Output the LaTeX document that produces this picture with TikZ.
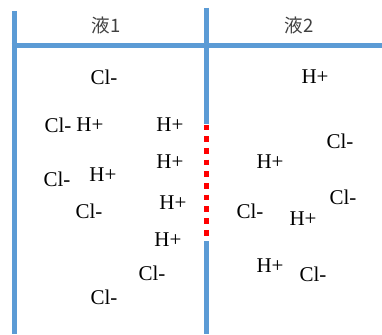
\documentclass[tikz,border=0pt]{standalone}
\usepackage{fontspec}
\setmainfont{Liberation Serif}
\newfontfamily\jpfont{Noto Sans CJK JP}
\usepackage{xcolor}
\definecolor{wallblue}{HTML}{5B9BD5}
\definecolor{labelgray}{HTML}{404040}

\begin{document}
\begin{tikzpicture}[
    x=1pt, y=-1pt,
    wall/.style={line width=5pt, wallblue},
    pore/.style={line width=5pt, red, dash pattern=on 5.7pt off 6pt},
    ion/.style={font=\fontsize{21}{24}\selectfont, inner sep=0pt},
    tank/.style={font=\jpfont\fontsize{18.5}{21}\selectfont, text=labelgray, inner sep=0pt}
]
    \useasboundingbox (0,0) rectangle (382,334);

    % walls of the vessel
    \draw[wall] (14,11) -- (14,334);
    \draw[wall] (11.5,45.5) -- (382,45.5);
    \draw[wall] (206.5,8) -- (206.5,124);
    \draw[wall] (206.5,241) -- (206.5,334);
    \draw[pore] (206.5,124.5) -- (206.5,237);

    % headings
    \node[tank] (liq1) at (106,25) {液1};
    \node[tank] (liq2) at (299,25) {液2};

    % left side
    \node[ion] (cl1) at (104,77) {Cl-};
    \node[ion] (cl2) at (58,125) {Cl-};
    \node[ion] (h1) at (90,125) {H+};
    \node[ion] (h2) at (170,125) {H+};
    \node[ion] (h3) at (170,162) {H+};
    \node[ion] (cl3) at (57,179) {Cl-};
    \node[ion] (h4) at (103,175) {H+};
    \node[ion] (cl4) at (89,211) {Cl-};
    \node[ion] (h5) at (173,203) {H+};
    \node[ion] (h6) at (168,240) {H+};
    \node[ion] (cl5) at (152,273) {Cl-};
    \node[ion] (cl6) at (104,297) {Cl-};

    % right side
    \node[ion] (h7) at (315,77) {H+};
    \node[ion] (cl7) at (340,141) {Cl-};
    \node[ion] (h8) at (270,162) {H+};
    \node[ion] (cl8) at (343,197) {Cl-};
    \node[ion] (cl9) at (250,211) {Cl-};
    \node[ion] (h9) at (303,219) {H+};
    \node[ion] (h10) at (270,266) {H+};
    \node[ion] (cl10) at (313,274) {Cl-};
\end{tikzpicture}
\end{document}
